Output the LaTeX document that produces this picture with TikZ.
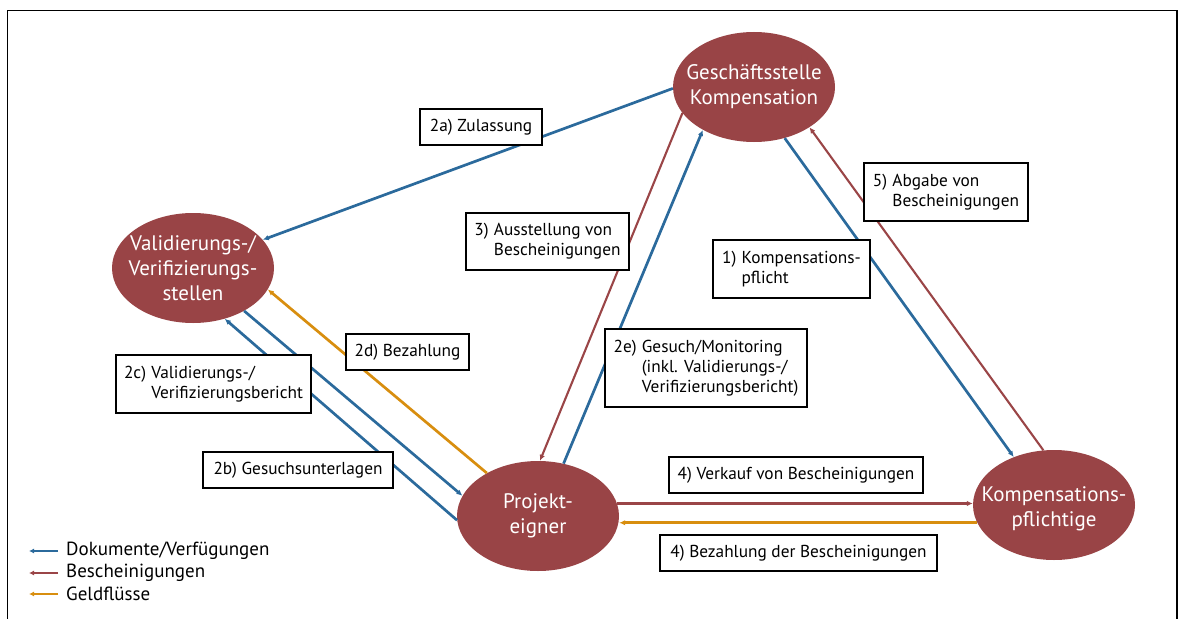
\documentclass[tikz,border=0pt]{standalone}
\usepackage{fontspec}
\setmainfont{PT Sans}
\usetikzlibrary{arrows.meta,shapes.geometric}
\definecolor{cblue}{HTML}{2B6A9C}
\definecolor{cred}{HTML}{9A4547}
\definecolor{corange}{HTML}{D88E0F}
\definecolor{cfill}{HTML}{994446}
\newcommand{\lbltwo}[3]{\begin{tabular}{@{}l@{\hspace{0.3em}}l@{}}#1 & #2\\ & #3\end{tabular}}
\newcommand{\lblthree}[4]{\begin{tabular}{@{}l@{\hspace{0.3em}}l@{}}#1 & #2\\ & #3\\ & #4\end{tabular}}
\begin{document}
\begin{tikzpicture}[x=1pt,y=-1pt,
 actor/.style={ellipse, fill=cfill, draw=none, minimum width=162pt, minimum height=110pt, inner sep=0pt},
 actortext/.style={text=white, align=center, inner sep=0pt, font=\fontsize{21}{25}\selectfont},
 lab/.style={draw=black, line width=1.2pt, fill=white, inner sep=0pt, font=\fontsize{17.3}{20}\selectfont},
 flow/.style={line width=2.7pt, -{Latex[length=6pt,width=5.5pt]}},
 doc/.style={flow, draw=cblue},
 cert/.style={flow, draw=cred, line width=2.1pt},
 money/.style={flow, draw=corange},
 legarrow/.style={line width=2.4pt, -{Latex[length=5pt,width=5pt]}},
 legtext/.style={anchor=west, font=\fontsize{19}{22}\selectfont, inner sep=0pt}]
\useasboundingbox (0,0) rectangle (1182,618);
\draw[line width=1.3pt] (7.5,10.5) rectangle (1177,640);

% actors
\node[actor, label={[actortext]center:Geschäftsstelle\\Kompensation}] (gs) at (754,87) {};
\node[actor, label={[actortext]center:Validierungs-/\\Verifizierungs-\\stellen}] (vs) at (193,268) {};
\node[actor, label={[actortext]center:Projekt-\\eigner}] (pe) at (538,516) {};
\node[actor, label={[actortext, yshift=-4pt]center:Kompensations-\\pflichtige}] (kp) at (1054,505) {};

% flows
\draw[doc] (gs.181) -- (vs.22);
\draw[cert] (gs.200) -- (pe.88);
\draw[doc] (pe.64) -- (gs.220);
\draw[doc] (gs.301) -- (kp.130);
\draw[cert] (kp.101) -- (gs.324);
\draw[cert] (pe.9) -- (kp.west |- pe.9);
\draw[money] (kp.193) -- (pe.east |- kp.193);
\draw[money] (pe.140) -- (vs.344);
\draw[doc] (vs.320) -- (pe.165);
\draw[doc] (pe.183) -- (vs.302);

% labels
\node[lab, minimum width=122pt, minimum height=36pt] (l2a) at (481,127) {2a) Zulassung};
\node[lab, minimum width=163pt, minimum height=57pt] (l3) at (547.5,241.5) {\lbltwo{3)}{Ausstellung von}{Bescheinigungen}};
\node[lab, minimum width=164pt, minimum height=58pt] (l5) at (946,192) {\lbltwo{5)}{Abgabe von}{Bescheinigungen}};
\node[lab, minimum width=157pt, minimum height=58pt] (l1) at (791.5,269) {\lbltwo{1)}{Kompensations-}{pflicht}};
\node[lab, minimum width=123pt, minimum height=36pt] (l2d) at (407.5,352) {2d) Bezahlung};
\node[lab, minimum width=195pt, minimum height=58pt] (l2c) at (213.5,384) {\lbltwo{2c)}{Validierungs-/}{Verifizierungsbericht}};
\node[lab, minimum width=190pt, minimum height=36pt] (l2b) at (298,470) {2b) Gesuchsunterlagen};
\node[lab, minimum width=202pt, minimum height=78pt] (l2e) at (706,368) {\lblthree{2e)}{Gesuch/Monitoring}{(inkl. Validierungs-/}{Verifizierungsbericht)}};
\node[lab, minimum width=254pt, minimum height=36pt] (l4v) at (796,475) {4) Verkauf von Bescheinigungen};
\node[lab, minimum width=277pt, minimum height=36pt] (l4b) at (798.5,553) {4) Bezahlung der Bescheinigungen};

% legend
\coordinate (a1s) at (58,551); \coordinate (a1e) at (29,551);
\coordinate (a2s) at (58,573); \coordinate (a2e) at (29,573);
\coordinate (a3s) at (58,594); \coordinate (a3e) at (29,594);
\draw[legarrow, draw=cblue] (a1s) -- (a1e);
\draw[legarrow, draw=cred] (a2s) -- (a2e);
\draw[legarrow, draw=corange] (a3s) -- (a3e);
\node[legtext] (t1) at (66,551) {Dokumente/Verfügungen};
\node[legtext] (t2) at (66,573) {Bescheinigungen};
\node[legtext] (t3) at (66,594) {Geldflüsse};
\end{tikzpicture}
\end{document}
